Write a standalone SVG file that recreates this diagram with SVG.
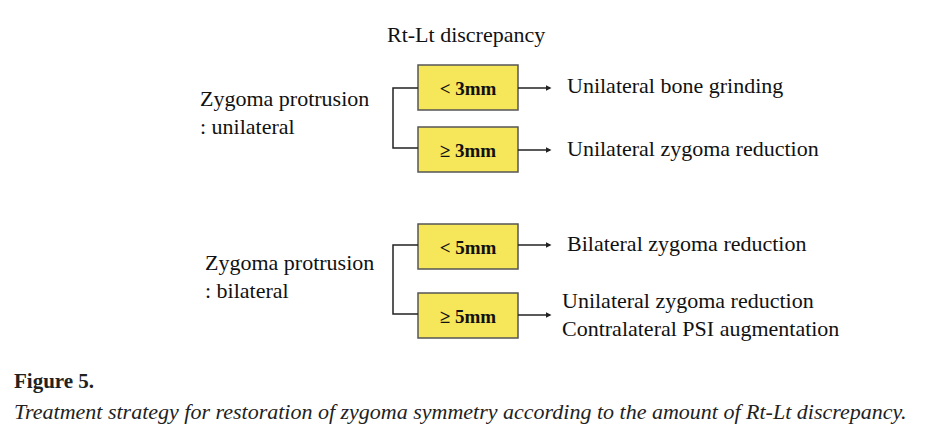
<svg xmlns="http://www.w3.org/2000/svg" width="947" height="443" viewBox="0 0 947 443">
<style>
.t{font-family:"Liberation Serif",serif;font-size:22px;fill:#111}
.b{font-family:"Liberation Serif",serif;font-size:19px;font-weight:bold;fill:#111}
.box{fill:#f5e65a;stroke:#555;stroke-width:1.5}
.ln{fill:none;stroke:#222;stroke-width:1.5}
</style>
<defs><marker id="a" markerWidth="4" markerHeight="4" refX="3" refY="2" orient="auto"><path d="M0,0L4,2L0,4z" fill="#222"/></marker></defs>
<rect width="947" height="443" fill="#fff"/>
<text class="t" x="387" y="42">Rt-Lt discrepancy</text>
<g id="n1"><text class="t" x="200" y="106">Zygoma protrusion</text><text class="t" x="200" y="134">: unilateral</text></g>
<g id="n2"><rect class="box" x="418" y="65" width="100" height="45"/><text class="b" x="468" y="95" text-anchor="middle">&lt; 3mm</text></g>
<g id="n3"><rect class="box" x="418" y="127" width="100" height="45"/><text class="b" x="468" y="157" text-anchor="middle">≥ 3mm</text></g>
<g id="n4"><text class="t" x="567" y="93">Unilateral bone grinding</text></g>
<g id="n5"><text class="t" x="567" y="156">Unilateral zygoma reduction</text></g>
<g id="n6"><text class="t" x="205" y="270">Zygoma protrusion</text><text class="t" x="205" y="298">: bilateral</text></g>
<g id="n7"><rect class="box" x="418" y="224" width="100" height="45"/><text class="b" x="468" y="254" text-anchor="middle">&lt; 5mm</text></g>
<g id="n8"><rect class="box" x="418" y="293" width="100" height="45"/><text class="b" x="468" y="323" text-anchor="middle">≥ 5mm</text></g>
<g id="n9"><text class="t" x="567" y="251">Bilateral zygoma reduction</text></g>
<g id="n10"><text class="t" x="562" y="308">Unilateral zygoma reduction</text><text class="t" x="562" y="336">Contralateral PSI augmentation</text></g>
<g id="edges">
<path class="ln" d="M418,88H393V148H418"/>
<path class="ln" d="M418,245H393V314H418"/>
<path class="ln" d="M518,88H550" marker-end="url(#a)"/>
<path class="ln" d="M518,150H550" marker-end="url(#a)"/>
<path class="ln" d="M518,245H550" marker-end="url(#a)"/>
<path class="ln" d="M518,315H550" marker-end="url(#a)"/>
</g>
<text x="14" y="388" style="font-family:'Liberation Serif',serif;font-size:21px;font-weight:bold;fill:#222">Figure 5.</text>
<text x="14" y="419" style="font-family:'Liberation Serif',serif;font-size:22px;font-style:italic;fill:#222">Treatment strategy for restoration of zygoma symmetry according to the amount of Rt-Lt discrepancy.</text>
</svg>
